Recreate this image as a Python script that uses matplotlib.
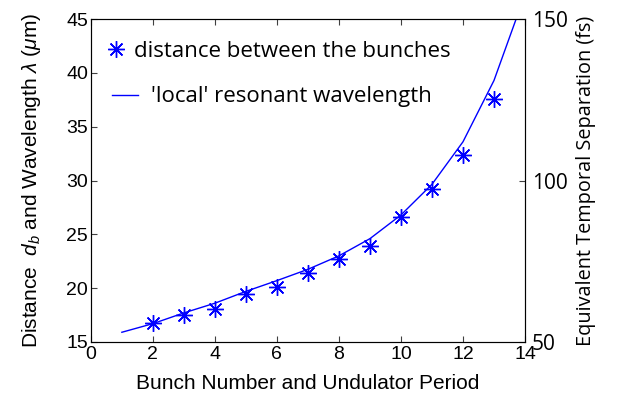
import matplotlib
matplotlib.use("Agg")
import matplotlib.pyplot as plt
import numpy as np

# star markers: measured distance between bunches (um)
bunch_n = [2, 3, 4, 5, 6, 7, 8, 9, 10, 11, 12, 13]
bunch_dist = [16.8, 17.5, 18.1, 19.5, 20.1, 21.4, 22.7, 23.95, 26.6, 29.2, 32.4, 37.6]

# solid line: 'local' resonant wavelength (um)
period_n = [1, 2, 3, 4, 5, 6, 7, 8, 9, 10, 11, 12, 13, 14]
res_wl = [15.9, 16.7, 17.7, 18.6, 19.7, 20.7, 21.75, 23.0, 24.6, 26.8, 29.65, 33.6, 39.3, 47.3]

plt.rcParams['font.family'] = ['Liberation Sans', 'DejaVu Sans']
plt.rcParams['mathtext.fontset'] = 'custom'
plt.rcParams['mathtext.it'] = 'Liberation Sans:italic'
plt.rcParams['mathtext.rm'] = 'Liberation Sans'

fig = plt.figure(figsize=(6.18, 3.99), dpi=100)
ax1 = fig.add_axes([0.147, 0.143, 0.7025, 0.809])

stars, = ax1.plot(bunch_n, bunch_dist, linestyle='none', marker=(8, 2, 0), markersize=12,
                  markeredgewidth=1.0, color='#0000ff')
line, = ax1.plot(period_n, res_wl, color='#0000ff', linewidth=1.0)

ax1.set_xlim(0, 14)
ax1.set_ylim(15, 45)
ax1.set_xticks(np.arange(0, 15, 2))
ax1.set_yticks(np.arange(15, 46, 5))
ax1.tick_params(direction='in', labelsize=14, length=4, top=True, color='#404040')
ax1.tick_params(axis='x', pad=3)
ax1.tick_params(axis='y', pad=2)
for s in ax1.spines.values():
    s.set_color('#404040')

ax1.set_xlabel('Bunch Number and Undulator Period', fontsize=15, labelpad=8)
ax1.set_ylabel(r'Distance  $d_b$ and Wavelength $\lambda$ ($\mu$m)', fontsize=15, labelpad=17)

ax2 = ax1.twinx()
ax2.set_ylim(50, 150)
ax2.set_yticks([50, 100, 150])
ax2.tick_params(direction='in', length=4, color='#404040', pad=5)
for lab in ax2.get_yticklabels():
    lab.set_fontfamily('Open Sans')
    lab.set_fontsize(15)
ax2.set_ylabel('Equivalent Temporal Separation (fs)', fontsize=14.3,
               family='Open Sans', labelpad=6)

# two separate legend rows (star text sits closer to its marker)
legprop = {'family': 'Open Sans', 'size': 16}
leg1 = ax2.legend([stars], ['distance between the bunches'], loc='center left',
                  bbox_to_anchor=(0.032, 0.901), frameon=False, prop=legprop,
                  handlelength=1.0, handletextpad=0.3, borderaxespad=0, borderpad=0)
ax2.add_artist(leg1)
ax2.legend([line], ["'local' resonant wavelength"], loc='center left',
           bbox_to_anchor=(0.048, 0.759), frameon=False, prop=legprop,
           handlelength=1.2, handletextpad=0.55, borderaxespad=0, borderpad=0)

fig.savefig('out.png', dpi=100)
